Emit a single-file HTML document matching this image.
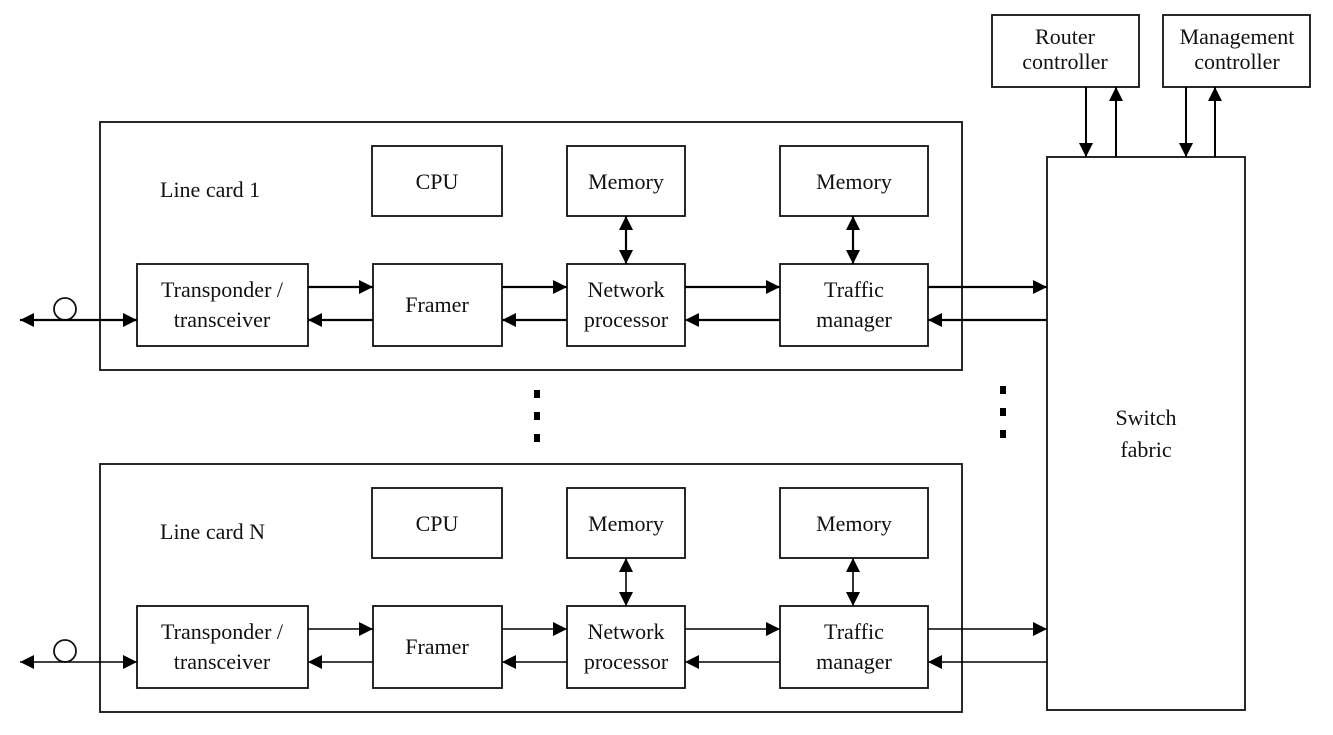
<!DOCTYPE html>
<html><head><style>
body{margin:0;background:#fff;}
svg text{font-family:"Liberation Serif",serif;font-size:22px;fill:#111;}
</style></head><body>
<svg width="1333" height="730" viewBox="0 0 1333 730" xmlns="http://www.w3.org/2000/svg">
<defs>
<marker id="a" viewBox="0 0 10 10" refX="10" refY="5" markerWidth="18" markerHeight="14" markerUnits="userSpaceOnUse" orient="auto-start-reverse"><path d="M0,0 L10,5 L0,10z" fill="#000"/></marker>
</defs>
<g fill="none" stroke="#111" stroke-width="1.8">
<rect x="992" y="15" width="147" height="72"/>
<rect x="1163" y="15" width="147" height="72"/>
<rect x="1047" y="157" width="198" height="553"/>
</g>
<g stroke="#000" stroke-width="2" fill="none">
<line x1="1086" y1="87" x2="1086" y2="157" marker-end="url(#a)"/>
<line x1="1116" y1="157" x2="1116" y2="87" marker-end="url(#a)"/>
<line x1="1186" y1="87" x2="1186" y2="157" marker-end="url(#a)"/>
<line x1="1215" y1="157" x2="1215" y2="87" marker-end="url(#a)"/>
</g>
<text x="1065" y="44" text-anchor="middle">Router</text>
<text x="1065" y="69" text-anchor="middle">controller</text>
<text x="1237" y="44" text-anchor="middle">Management</text>
<text x="1237" y="69" text-anchor="middle">controller</text>
<text x="1146" y="425" text-anchor="middle">Switch</text>
<text x="1146" y="457" text-anchor="middle">fabric</text>
<g fill="#000">
<rect x="534" y="390" width="6" height="8"/><rect x="534" y="412" width="6" height="8"/><rect x="534" y="434" width="6" height="8"/>
<rect x="1000" y="386" width="6" height="8"/><rect x="1000" y="408" width="6" height="8"/><rect x="1000" y="430" width="6" height="8"/>
</g>
<g id="c1">
<g fill="none" stroke="#111" stroke-width="1.8">
<rect x="100" y="122" width="862" height="248"/>
<rect x="372" y="146" width="130" height="70"/>
<rect x="567" y="146" width="118" height="70"/>
<rect x="780" y="146" width="148" height="70"/>
<rect x="137" y="264" width="171" height="82"/>
<rect x="373" y="264" width="129" height="82"/>
<rect x="567" y="264" width="118" height="82"/>
<rect x="780" y="264" width="148" height="82"/>
<circle cx="65" cy="309" r="11"/>
</g>
<g stroke="#000" stroke-width="2.2" fill="none">
<line x1="20" y1="320" x2="137" y2="320" marker-start="url(#a)" marker-end="url(#a)"/>
<line x1="308" y1="287" x2="373" y2="287" marker-end="url(#a)"/>
<line x1="373" y1="320" x2="308" y2="320" marker-end="url(#a)"/>
<line x1="502" y1="287" x2="567" y2="287" marker-end="url(#a)"/>
<line x1="567" y1="320" x2="502" y2="320" marker-end="url(#a)"/>
<line x1="685" y1="287" x2="780" y2="287" marker-end="url(#a)"/>
<line x1="780" y1="320" x2="685" y2="320" marker-end="url(#a)"/>
<line x1="928" y1="287" x2="1047" y2="287" marker-end="url(#a)"/>
<line x1="1047" y1="320" x2="928" y2="320" marker-end="url(#a)"/>
<line x1="626" y1="216" x2="626" y2="264" marker-start="url(#a)" marker-end="url(#a)"/>
<line x1="853" y1="216" x2="853" y2="264" marker-start="url(#a)" marker-end="url(#a)"/>
</g>
<text x="160" y="197">Line card 1</text>
<text x="437" y="189" text-anchor="middle">CPU</text>
<text x="626" y="189" text-anchor="middle">Memory</text>
<text x="854" y="189" text-anchor="middle">Memory</text>
<text x="222" y="297" text-anchor="middle">Transponder /</text>
<text x="222" y="327" text-anchor="middle">transceiver</text>
<text x="437" y="312" text-anchor="middle">Framer</text>
<text x="626" y="297" text-anchor="middle">Network</text>
<text x="626" y="327" text-anchor="middle">processor</text>
<text x="854" y="297" text-anchor="middle">Traffic</text>
<text x="854" y="327" text-anchor="middle">manager</text>
</g>
<g transform="translate(0,342)">
<g fill="none" stroke="#111" stroke-width="1.8">
<rect x="100" y="122" width="862" height="248"/>
<rect x="372" y="146" width="130" height="70"/>
<rect x="567" y="146" width="118" height="70"/>
<rect x="780" y="146" width="148" height="70"/>
<rect x="137" y="264" width="171" height="82"/>
<rect x="373" y="264" width="129" height="82"/>
<rect x="567" y="264" width="118" height="82"/>
<rect x="780" y="264" width="148" height="82"/>
<circle cx="65" cy="309" r="11"/>
</g>
<g stroke="#000" stroke-width="1.6" fill="none">
<line x1="20" y1="320" x2="137" y2="320" marker-start="url(#a)" marker-end="url(#a)"/>
<line x1="308" y1="287" x2="373" y2="287" marker-end="url(#a)"/>
<line x1="373" y1="320" x2="308" y2="320" marker-end="url(#a)"/>
<line x1="502" y1="287" x2="567" y2="287" marker-end="url(#a)"/>
<line x1="567" y1="320" x2="502" y2="320" marker-end="url(#a)"/>
<line x1="685" y1="287" x2="780" y2="287" marker-end="url(#a)"/>
<line x1="780" y1="320" x2="685" y2="320" marker-end="url(#a)"/>
<line x1="928" y1="287" x2="1047" y2="287" marker-end="url(#a)"/>
<line x1="1047" y1="320" x2="928" y2="320" marker-end="url(#a)"/>
<line x1="626" y1="216" x2="626" y2="264" marker-start="url(#a)" marker-end="url(#a)"/>
<line x1="853" y1="216" x2="853" y2="264" marker-start="url(#a)" marker-end="url(#a)"/>
</g>
<text x="160" y="197">Line card N</text>
<text x="437" y="189" text-anchor="middle">CPU</text>
<text x="626" y="189" text-anchor="middle">Memory</text>
<text x="854" y="189" text-anchor="middle">Memory</text>
<text x="222" y="297" text-anchor="middle">Transponder /</text>
<text x="222" y="327" text-anchor="middle">transceiver</text>
<text x="437" y="312" text-anchor="middle">Framer</text>
<text x="626" y="297" text-anchor="middle">Network</text>
<text x="626" y="327" text-anchor="middle">processor</text>
<text x="854" y="297" text-anchor="middle">Traffic</text>
<text x="854" y="327" text-anchor="middle">manager</text>
</g>
</svg>
</body></html>
